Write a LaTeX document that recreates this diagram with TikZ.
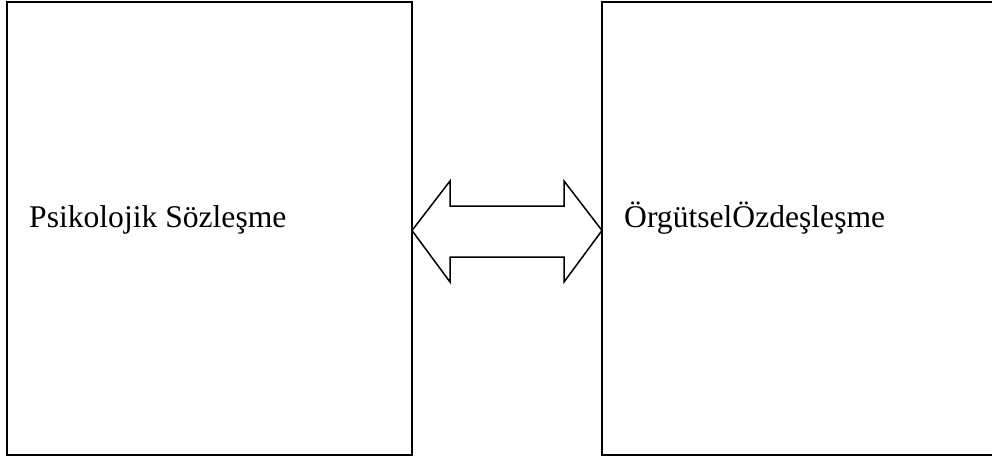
\documentclass[tikz,border=0pt]{standalone}
\usepackage{fontspec}
\setmainfont{Liberation Serif}
\begin{document}
\begin{tikzpicture}[x=1pt,y=1pt,
  panel/.style={draw=black,line width=1.5pt,rectangle,inner sep=0pt,outer sep=0pt},
  caption/.style={anchor=base west,inner sep=0pt,font=\fontsize{31.6}{38}\selectfont},
  bigarrow/.style={draw=black,line width=1.5pt,line join=miter,fill=white}]
\useasboundingbox (0,0) rectangle (992,459);
\clip (0,0) rectangle (992,459);
% the two boxes
\node[panel,minimum width=405pt,minimum height=453pt] (left) at (209.5,230.5) {};
\node[panel,minimum width=405pt,minimum height=453pt] (right) at (804.5,230.5) {};
% their labels
\node[caption] (ltext) at (29,232) {Psikolojik Sözleşme};
\node[caption] (rtext) at (624,232) {ÖrgütselÖzdeşleşme};
% double-headed block arrow between the boxes
\draw[bigarrow] (left.east |- 0,228.5) -- (450,278) -- (450,253) -- (564,253) -- (564,278)
  -- (right.west |- 0,228.5) -- (564,177) -- (564,202) -- (450,202) -- (450,177) -- cycle;
\end{tikzpicture}
\end{document}
